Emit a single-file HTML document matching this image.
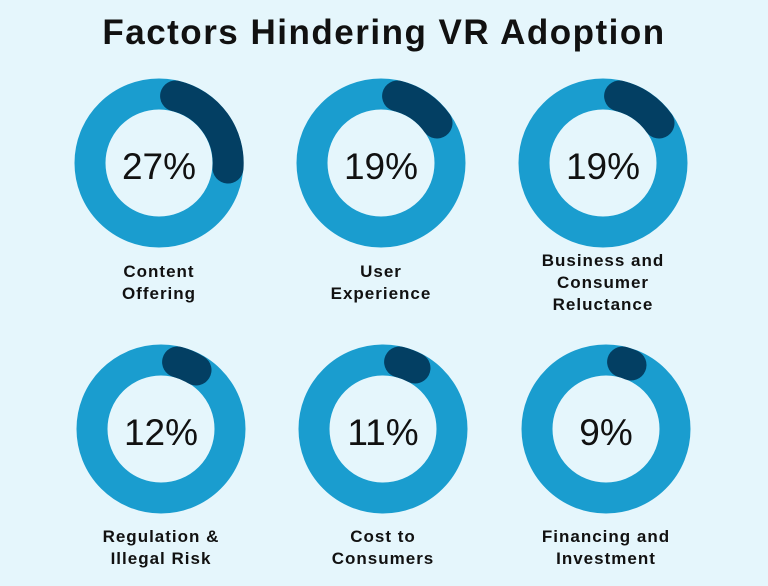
<!DOCTYPE html>
<html><head><meta charset="utf-8"><style>
html,body{margin:0;padding:0;background:#e5f6fc;}
body{width:768px;height:586px;overflow:hidden;position:relative;font-family:"Liberation Sans",sans-serif;}
.t{position:absolute;left:0;width:768px;top:13px;text-align:center;font-size:35px;font-weight:bold;color:#111;letter-spacing:1.5px;}
.l{position:absolute;width:220px;text-align:center;font-size:17px;font-weight:bold;color:#111;line-height:22px;letter-spacing:1px;}
</style></head><body>
<div class="t">Factors Hindering VR Adoption</div>
<svg width="768" height="586" style="position:absolute;left:0;top:0">
<g font-family="Liberation Sans, sans-serif" font-size="37" fill="#111" text-anchor="middle">
<g transform="translate(159,163)">
<circle r="69" fill="none" stroke="#1a9dcf" stroke-width="31"/>
<path d="M16.6,-67 A69,69 0 0 1 69,5" fill="none" stroke="#033f63" stroke-width="31" stroke-linecap="round"/>
<text y="16">27%</text></g>
<g transform="translate(381,163)">
<circle r="69" fill="none" stroke="#1a9dcf" stroke-width="31"/>
<path d="M16.6,-67 A69,69 0 0 1 56,-40" fill="none" stroke="#033f63" stroke-width="31" stroke-linecap="round"/>
<text y="16">19%</text></g>
<g transform="translate(603,163)">
<circle r="69" fill="none" stroke="#1a9dcf" stroke-width="31"/>
<path d="M16.6,-67 A69,69 0 0 1 56,-40" fill="none" stroke="#033f63" stroke-width="31" stroke-linecap="round"/>
<text y="16">19%</text></g>
<g transform="translate(161,429)">
<circle r="69" fill="none" stroke="#1a9dcf" stroke-width="31"/>
<path d="M16.6,-67 A69,69 0 0 1 35,-59" fill="none" stroke="#033f63" stroke-width="31" stroke-linecap="round"/>
<text y="16">12%</text></g>
<g transform="translate(383,429)">
<circle r="69" fill="none" stroke="#1a9dcf" stroke-width="31"/>
<path d="M16.6,-67 A69,69 0 0 1 32,-61" fill="none" stroke="#033f63" stroke-width="31" stroke-linecap="round"/>
<text y="16">11%</text></g>
<g transform="translate(606,429)">
<circle r="69" fill="none" stroke="#1a9dcf" stroke-width="31"/>
<path d="M16.6,-67 A69,69 0 0 1 25,-64" fill="none" stroke="#033f63" stroke-width="31" stroke-linecap="round"/>
<text y="16">9%</text></g>
</g></svg>
<div class="l" style="left:49px;top:261px">Content<br>Offering</div>
<div class="l" style="left:271px;top:261px">User<br>Experience</div>
<div class="l" style="left:493px;top:250px">Business and<br>Consumer<br>Reluctance</div>
<div class="l" style="left:51px;top:526px">Regulation &amp;<br>Illegal Risk</div>
<div class="l" style="left:273px;top:526px">Cost to<br>Consumers</div>
<div class="l" style="left:496px;top:526px">Financing and<br>Investment</div>
</body></html>
